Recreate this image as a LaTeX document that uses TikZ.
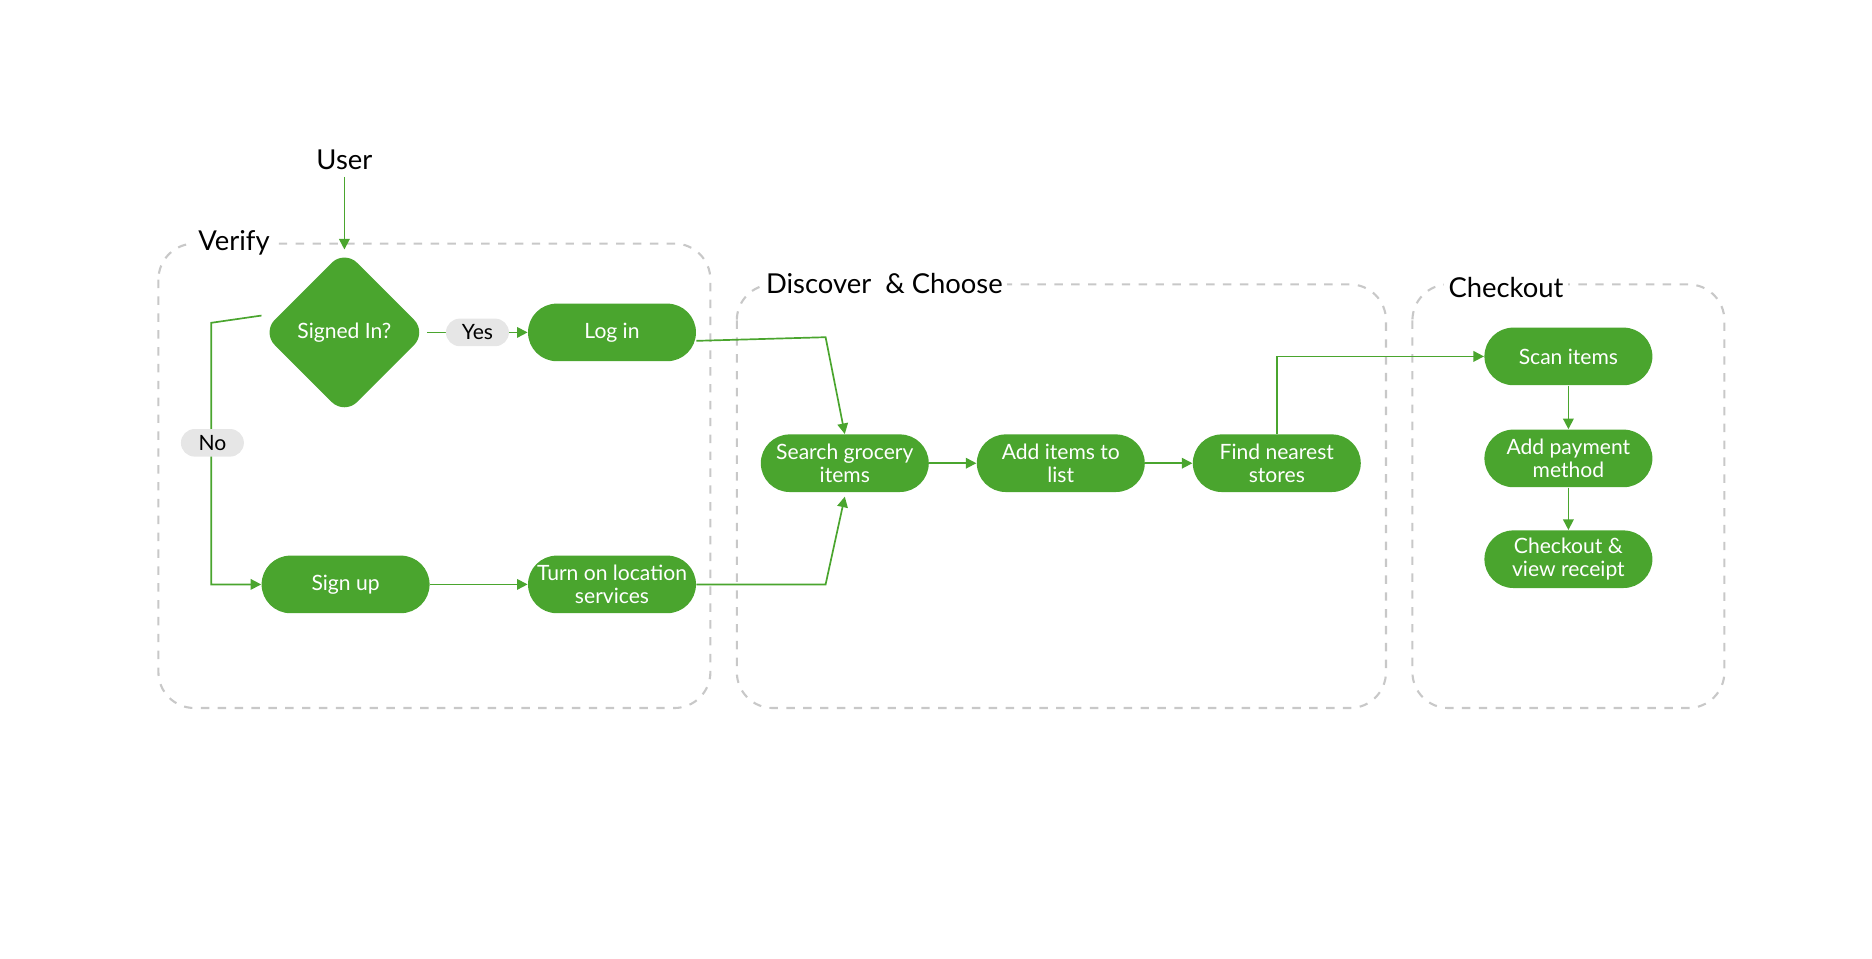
\documentclass[tikz,border=0pt]{standalone}
\usepackage{fontspec}
\setmainfont{Lato}
\usetikzlibrary{positioning}
\usetikzlibrary{shapes.geometric}
\usetikzlibrary{arrows.meta}
\definecolor{leaf}{HTML}{4AA52E}
\definecolor{pill}{HTML}{E6E6E6}
\definecolor{frame}{HTML}{C8C8C8}
\tikzset{
    stage/.style = {rectangle,rounded corners=0.48cm,fill=leaf,text=white,minimum width=2.8cm,minimum height=0.96cm,align=center,font=\fontsize{10}{11}\selectfont,inner sep=1pt},
    decide/.style = {diamond,rounded corners=0.3cm,fill=leaf,text=white,minimum width=2.75cm,minimum height=2.75cm,font=\fontsize{10}{11}\selectfont,inner sep=0pt},
    tag/.style = {rectangle,rounded corners=0.23cm,fill=pill,minimum width=1.05cm,minimum height=0.46cm,font=\fontsize{10}{11}\selectfont,inner sep=1pt},
    group/.style = {draw=frame,line width=1pt,dash pattern=on 4pt off 4pt,rounded corners=0.6cm},
    title/.style = {fill=white,font=\fontsize{13}{15}\selectfont,inner sep=2pt},
    flow/.style = {draw=leaf,line width=0.8pt,-{Triangle[length=5pt,width=5pt]}}}
\begin{document}
\begin{tikzpicture}[x=0.02cm,y=-0.02cm]
    \useasboundingbox (0,0) rectangle (1560,799);
    % groups
    \draw[group] (132,203) rectangle (592,590);
    \draw[group] (614,237) rectangle (1155,590);
    \draw[group] (1177,237) rectangle (1437,590);
    \node[title] (verify) at (195,202) {Verify};
    \node[title] (discover) at (737,236) {Discover \ \& Choose};
    \node[title] (checkout) at (1255,240) {Checkout};
    % nodes
    \node[font=\fontsize{13}{15}\selectfont] (user) at (287,133) {User};
    \node[decide] (signed) at (287,277) {Signed In?};
    \node[stage] (login) at (510,277) {Log in};
    \node[stage] (signup) at (288,487) {Sign up};
    \node[stage] (location) at (510,487) {Turn on location\\services};
    \node[stage] (search) at (704,386) {Search grocery\\items};
    \node[stage] (additems) at (884,386) {Add items to\\list};
    \node[stage] (stores) at (1064,386) {Find nearest\\stores};
    \node[stage] (scan) at (1307,297) {Scan items};
    \node[stage] (payment) at (1307,382) {Add payment\\method};
    \node[stage] (receipt) at (1307,466) {Checkout \&\\view receipt};
    \coordinate (loginturn) at (688,281);
    \coordinate (locturn) at (688,487);
    \coordinate (noturn) at (176,269);
    \coordinate (storesturn) at (1064,297);
    % edges
    \draw[flow] (user) -- (signed.north);
    \draw[flow] (signed.east) -- (login.west) node[tag,midway,text=black] (yes) {Yes};
    \draw[flow] ([yshift=8pt]signed.west) -- (noturn) |- (signup.west);
    \node[tag] (no) at (177,369) {No};
    \draw[flow] ([yshift=-4pt]login.east) -- (loginturn) -- (search.north);
    \draw[flow] (signup) -- (location);
    \draw[flow] (location.east) -- (locturn) -- ([yshift=-2pt]search.south);
    \draw[flow] (search) -- (additems);
    \draw[flow] (additems) -- (stores);
    \draw[flow] (stores.north) -- (storesturn) -- (scan.west);
    \draw[flow] (scan) -- (payment);
    \draw[flow] (payment) -- (receipt);
\end{tikzpicture}
\end{document}
